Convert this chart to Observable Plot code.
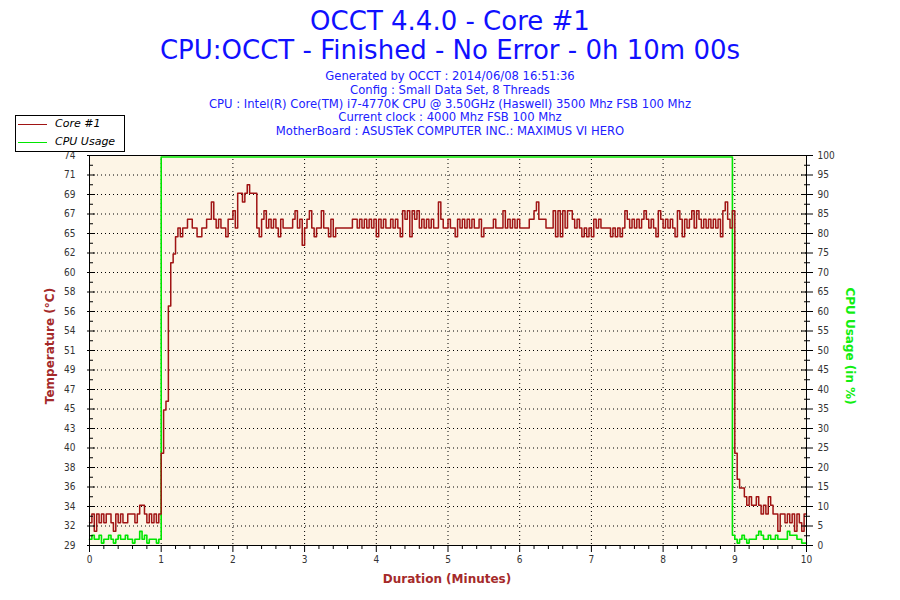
<!DOCTYPE html>
<html>
<head>
<meta charset="utf-8">
<script src="https://cdn.jsdelivr.net/npm/d3@7"></script>
<script src="https://cdn.jsdelivr.net/npm/@observablehq/plot@0.6"></script>
<style>
  html, body { margin: 0; padding: 0; background: #ffffff; }
  #wrap { position: relative; width: 900px; height: 600px; overflow: hidden; background: #ffffff;
          font-family: "DejaVu Sans", sans-serif; }
  #wrap svg { position: absolute; left: 0; top: 0; }
  .c { position: absolute; white-space: nowrap; transform: translate(-50%, -50%); line-height: 1; }
  .t1 { font-family: "DejaVu Sans", sans-serif; font-size: 26px; color: #1010ff; }
  .t2 { font-family: "DejaVu Sans", sans-serif; font-size: 11.6px; color: #2020ff; }
  .ax { font-family: "DejaVu Sans", sans-serif; font-weight: bold; font-size: 12px; }
  #legend { position: absolute; left: 15px; top: 115px; width: 108px; height: 35px; border: 1px solid #000; background: #fff;
            font-family: "DejaVu Sans", sans-serif; font-style: italic; font-size: 11px; color: #000; }
  #legend .row { position: absolute; left: 0; height: 14px; line-height: 14px; }
  #legend .sw { position: absolute; left: 2px; top: 7px; width: 29px; height: 0; border-top: 1px solid; }
  #legend .lb { position: absolute; left: 39px; top: 0; }
</style>
</head>
<body>
<div id="wrap">
  <div class="c t1" style="left:450px; top:21px;">OCCT 4.4.0 - Core #1</div>
  <div class="c t1" style="left:450px; top:50px;">CPU:OCCT - Finished - No Error - 0h 10m 00s</div>
  <div class="c t2" style="left:450px; top:77px;">Generated by OCCT : 2014/06/08 16:51:36</div>
  <div class="c t2" style="left:450px; top:91px;">Config : Small Data Set, 8 Threads</div>
  <div class="c t2" style="left:450px; top:105px;">CPU : Intel(R) Core(TM) i7-4770K CPU @ 3.50GHz (Haswell) 3500 Mhz FSB 100 Mhz</div>
  <div class="c t2" style="left:450px; top:118px;">Current clock : 4000 Mhz FSB 100 Mhz</div>
  <div class="c t2" style="left:450px; top:132px;">MotherBoard : ASUSTeK COMPUTER INC.: MAXIMUS VI HERO</div>
  <div id="legend">
    <div class="row" style="top:1px; width:100%;"><div class="sw" style="border-color:#a01414;"></div><div class="lb">Core #1</div></div>
    <div class="row" style="top:19px; width:100%;"><div class="sw" style="border-color:#00e600;"></div><div class="lb">CPU Usage</div></div>
  </div>
  <div class="c ax" style="left:50px; top:346px; color:#a52a2a; transform: translate(-50%,-50%) rotate(-90deg);">Temperature (°C)</div>
  <div class="c ax" style="left:850px; top:346px; color:#11ee11; transform: translate(-50%,-50%) rotate(90deg);">CPU Usage (in %)</div>
  <div class="c ax" style="left:447px; top:579px; color:#a52a2a;">Duration (Minutes)</div>
</div>
<script>
// ---------------- data ----------------
const SAMPLE_SEC = 2;              // sampling interval of the log (seconds)
const T_MIN = 29.37, T_MAX = 74.37; // temperature range of the left axis

// Core #1 temperature (°C), every 2 s
const tempIdle = [32,33,31,33,32,33,32,33,33,32,31,33,32,33,32,32,33,33,33,32,33,34,34,33,32,33,32,33,32,33];
const tempLoad = [
  40,45,46,57,62,63,65,66,65,66,
  66,67,67,66,66,65,65,66,66,67,
  67,69,67,66,67,66,66,65,67,67,
  68,66,70,70,69,70,71,70,70,70,
  66,65,67,68,66,67,66,67,66,65,
  67,66,66,66,66,67,68,66,67,64,
  66,67,68,66,65,66,66,68,66,66,
  65,67,65,66,66,66,66,66,66,66,
  67,67,66,67,66,67,66,67,66,67,
  65,67,66,67,66,66,67,66,67,66,
  65,68,67,68,65,68,67,68,66,67,
  66,67,66,67,66,66,69,67,66,66,
  67,66,66,65,67,66,67,66,67,66,
  67,66,66,67,65,66,66,66,66,67,
  66,66,66,68,66,67,66,67,66,67,
  66,66,66,66,67,67,68,69,67,67,
  67,66,66,66,68,65,68,65,68,66,
  68,68,67,66,67,66,65,66,65,66,
  65,67,66,67,66,66,66,66,65,66,
  65,66,65,66,68,67,66,67,66,67,
  66,67,68,67,66,67,66,65,68,67,
  66,67,66,67,66,65,68,67,65,67,
  66,67,68,66,68,67,66,67,66,67,
  66,67,66,67,65,68,69,67,66,68
];
const tempCool = [40,37,36,36,35,34,35,34,34,35,34,33,34,33,35,34,33,33,31,33,33,32,33,32,33,31,33,32,31,33,33];

// CPU usage (%)
const cpuIdleStart = [2,3,2,2,3,1,2,2,3,2,1,2,3,2,2,3,2,2,1,2,2,4,2,3,1,2,2,2,1,2]; // 0..58 s
const cpuLoad = [{sec: 60, v: 100}];                                                  // full load from 60 s
const cpuIdleEndStart = 538;                                                          // seconds
const cpuIdleEnd = [3,2,1,2,3,2,1,2,2,2,3,4,3,2,2,3,2,2,3,2,2,2,2,4,3,3,3,2,2,1,1,1];

// tick labels
const tempTickLabels = ["29","32","34","36","38","40","43","45","47","49","51","54","56","58","60","62","65","67","69","71","74"];
const cpuTickLabels = ["0","5","10","15","20","25","30","35","40","45","50","55","60","65","70","75","80","85","90","95","100"];
const minuteLabels = ["0","1","2","3","4","5","6","7","8","9","10"];

// ---------------- build ----------------
const toPct = t => (t - T_MIN) / (T_MAX - T_MIN) * 100;
const tempAll = [...tempIdle, ...tempLoad, ...tempCool];
const tempData = tempAll.map((v, i) => ({min: i * SAMPLE_SEC / 60, v: toPct(v)}));

const cpuData = [
  ...cpuIdleStart.map((v, i) => ({min: i * SAMPLE_SEC / 60, v})),
  ...cpuLoad.map(d => ({min: d.sec / 60, v: d.v})),
  ...cpuIdleEnd.map((v, i) => ({min: (cpuIdleEndStart + i * SAMPLE_SEC) / 60, v}))
];

const yMajor = cpuTickLabels.map(Number);              // 0..100 positions shared by both axes
const yMinor = yMajor.slice(0, -1).map(d => d + 2.5);
const yGrid = yMajor.filter(d => d > 0 && d < 100);
const xMajor = minuteLabels.map(Number);
const xMinor = d3.range(0, 50).map(i => i / 5).filter(d => !Number.isInteger(d));
const xGrid = xMajor.filter(d => d > 0 && d < 10);

const chart = Plot.plot({
  width: 900,
  height: 600,
  marginLeft: 89,
  marginRight: 94,
  marginTop: 155,
  marginBottom: 55,
  x: {domain: [0, 10], axis: null, label: null},
  y: {domain: [0, 100], axis: null, label: null},
  style: {fontFamily: "'DejaVu Sans Condensed', 'DejaVu Sans', sans-serif", fontSize: "10px", color: "#333", background: "transparent", overflow: "visible"},
  marks: [
    Plot.frame({fill: "#fdf5e6", stroke: null}),
    Plot.gridX(xGrid, {stroke: "#000", strokeOpacity: 1, strokeDasharray: "1,3"}),
    Plot.gridY(yGrid, {stroke: "#000", strokeOpacity: 1, strokeDasharray: "1,3"}),
    Plot.lineY(cpuData, {x: "min", y: "v", curve: "step-after", stroke: "#00e600", strokeWidth: 1.6, dy: 1.5}),
    Plot.lineY(tempData, {x: "min", y: "v", curve: "step-after", stroke: "#a01414", strokeWidth: 1.5}),
    Plot.frame({stroke: "#000", strokeWidth: 1}),
    // left axis (temperature)
    Plot.axisY(yMajor, {anchor: "left", tickSize: 8, dx: 6, tickPadding: 12, stroke: "#000",
      tickFormat: d => tempTickLabels[Math.round(d / 5)], label: null}),
    Plot.axisY(yMinor, {anchor: "left", tickSize: 4, dx: 4, stroke: "#000", tickFormat: () => "", label: null}),
    // right axis (CPU usage)
    Plot.axisY(yMajor, {anchor: "right", tickSize: 12, dx: -6, tickPadding: 5, stroke: "#000",
      tickFormat: d => cpuTickLabels[Math.round(d / 5)], label: null}),
    Plot.axisY(yMinor, {anchor: "right", tickSize: 6, dx: -3, stroke: "#000", tickFormat: () => "", label: null}),
    // bottom axis (minutes)
    Plot.axisX(xMajor, {anchor: "bottom", tickSize: 7, tickPadding: 3, stroke: "#000",
      tickFormat: d => minuteLabels[d], label: null}),
    Plot.axisX(xMinor, {anchor: "bottom", tickSize: 4, stroke: "#000", tickFormat: () => "", label: null})
  ]
});
document.getElementById("wrap").prepend(chart);
</script>
</body>
</html>
